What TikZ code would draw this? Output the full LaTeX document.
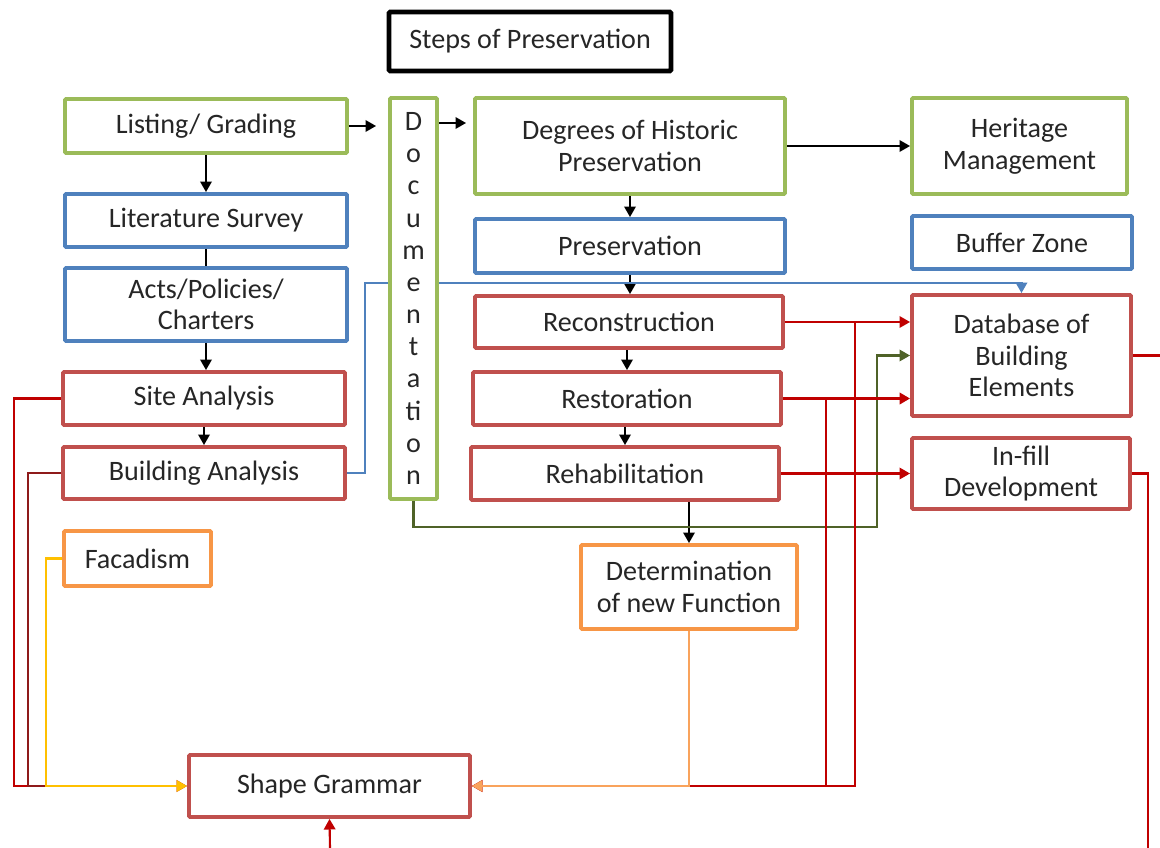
\documentclass[tikz,border=0pt]{standalone}
\usepackage{fontspec}
\setmainfont{Carlito}
\usetikzlibrary{arrows.meta}
\definecolor{gbox}{HTML}{9BBB59}
\definecolor{bbox}{HTML}{4F81BD}
\definecolor{rbox}{HTML}{C0504D}
\definecolor{obox}{HTML}{F79646}
\definecolor{rline}{HTML}{C00000}
\definecolor{drline}{HTML}{8E1A1A}
\definecolor{oline}{HTML}{4F6228}
\definecolor{yline}{HTML}{FFC000}
\definecolor{orline}{HTML}{F9A35C}
\definecolor{bline}{HTML}{4F81BD}
\definecolor{txt}{HTML}{262626}
\tikzset{
  box/.style={draw, line width=2.2pt, inner sep=0pt, align=center, text=txt,
    font=\fontsize{16}{18}\selectfont, rounded corners=0.6pt},
  con/.style={line width=1.2pt},
  arr/.style={con, -{Triangle[length=6pt,width=6.5pt]}},
}
\newcommand\bx[8][]{%
  \pgfmathsetmacro\bxw{(#5-#3)*0.02}%
  \pgfmathsetmacro\bxh{(#6-#4)*0.02}%
  \node[box,draw=#7,minimum width=\bxw cm,minimum height=\bxh cm,#1] (#2)
    at ({(#3+#5)/2},{(#4+#6)/2}) {#8};}
\begin{document}
\begin{tikzpicture}[x=0.02cm,y=-0.02cm]
\fill[white] (0,0) rectangle (1160,848);
\useasboundingbox (0,0) rectangle (1160,848);
% boxes
\bx[line width=2.6pt]{title}{389}{12}{671}{71}{black}{Steps of Preservation}
\bx{lg}{65}{99}{347}{153}{gbox}{Listing/ Grading}
\bx{ls}{65}{194}{347}{247}{bbox}{Literature Survey}
\bx{acts}{65}{268}{347}{341}{bbox}{Acts/Policies/\\Charters}
\bx{site}{63}{372}{345}{425}{rbox}{Site Analysis}
\bx{bldg}{63}{447}{345}{499}{rbox}{Building Analysis}
\bx{fac}{64}{531}{211}{586}{obox}{Facadism}
\bx[font=\fontsize{16}{18.3}\selectfont]{doc}{390}{98}{437}{499}{gbox}{D\\o\\c\\u\\m\\e\\n\\t\\a\\ti\\o\\n}
\bx{deg}{475}{98}{785}{194}{gbox}{Degrees of Historic\\Preservation}
\bx{her}{912}{98}{1127}{194}{gbox}{Heritage\\Management}
\bx{pres}{475}{219}{785}{273}{bbox}{Preservation}
\bx{buf}{912}{216}{1132}{269}{bbox}{Buffer Zone}
\bx{recon}{475}{296}{783}{348}{rbox}{Reconstruction}
\bx{resto}{473}{372}{781}{425}{rbox}{Restoration}
\bx{rehab}{471}{447}{779}{500}{rbox}{Rehabilitation}
\bx{db}{912}{295}{1131}{416}{rbox}{Database of\\Building\\Elements}
\bx{infill}{912}{438}{1130}{509}{rbox}{In-fill\\Development}
\bx{det}{581}{545}{797}{629}{obox}{Determination\\of new Function}
\bx{sg}{189}{755}{470}{817}{rbox}{Shape Grammar}
\coordinate (dbout) at (1160,355.5);
\coordinate (infout) at (1148,848);
\coordinate (sgin) at (330,848);
% black arrows
\draw[arr,shorten >=0.24cm] (lg.east) -- (lg.east -| doc.west);
\draw[arr,shorten >=0.14cm] (doc.east |- 0,123) -- (deg.west |- 0,123);
\draw[arr] (lg.south) -- (ls.north);
\draw[con] (ls.south) -- (acts.north);
\draw[arr] (acts.south) -- (acts.south |- site.north);
\draw[arr] (site.south) -- (bldg.north);
\draw[arr] (deg.south) -- (pres.north);
\draw[arr] (deg.east) -- (her.west);
\draw[arr] (pres.south) -- (pres.south |- recon.north);
\draw[arr] (recon.south -| resto.north) -- (resto.north);
\draw[arr] (resto.south -| rehab.north) -- (rehab.north);
\draw[arr] (det.north |- rehab.south) -- (det.north);
% blue connector
\draw[con,bline] (bldg.east) -- (365,473) -- (365,283) -- (doc.west |- 0,283);
\draw[arr,bline] (doc.east |- 0,283) -| (db.north);
% olive connector
\draw[arr,oline] (doc.south) |- (877,527) |- (db.west);
% red connectors on the right
\draw[arr,rline] (recon.east) -- (db.west |- recon.east);
\draw[arr,rline,line width=1.8pt] (resto.east) -- (db.west |- resto.east);
\draw[arr,rline] (rehab.east) -- (infill.west);
\draw[arr,rline] ([xshift=70*0.02cm]recon.east) |- (sg.east);
\draw[arr,rline] ([xshift=43*0.02cm]resto.east) |- (sg.east);
\draw[con,rline] (db.east) -- (dbout);
\draw[con,rline] (infill.east) -| (infout);
\draw[arr,rline] (sgin) -- (sg.south);
% left feedback lines
\draw[arr,rline] (site.west) -| (14,786) -- (sg.west);
\draw[con,drline] (bldg.west) -| (28,786) -- (46,786);
\draw[arr,yline] (fac.west) -| (46,786) -- (sg.west);
% orange
\draw[arr,orline] (det.south) |- (sg.east);
\end{tikzpicture}
\end{document}
